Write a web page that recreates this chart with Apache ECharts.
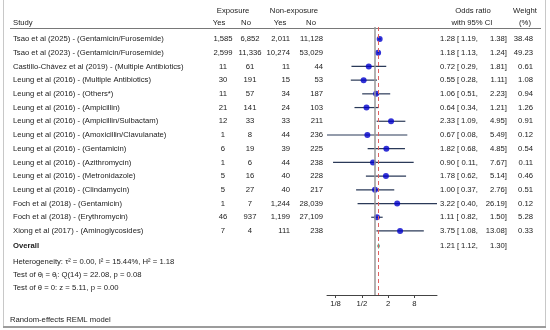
<!DOCTYPE html>
<html><head><meta charset="utf-8">
<script src="https://cdn.jsdelivr.net/npm/echarts@6/dist/echarts.min.js"></script>
<style>html,body{margin:0;padding:0;background:#fff}#c{width:550px;height:330px}</style>
</head><body><div id="c"></div>
<script>
// ---------- data ----------
const studies = [
  'Tsao et al (2025) - (Gentamicin/Furosemide)',
  'Tsao et al (2023) - (Gentamicin/Furosemide)',
  'Castillo-Chávez et al (2019) - (Multiple Antibiotics)',
  'Leung et al (2016) - (Multiple Antibiotics)',
  'Leung et al (2016) - (Others*)',
  'Leung et al (2016) - (Ampicillin)',
  'Leung et al (2016) - (Ampicillin/Sulbactam)',
  'Leung et al (2016) - (Amoxicillin/Clavulanate)',
  'Leung et al (2016) - (Gentamicin)',
  'Leung et al (2016) - (Azithromycin)',
  'Leung et al (2016) - (Metronidazole)',
  'Leung et al (2016) - (Clindamycin)',
  'Foch et al (2018) - (Gentamicin)',
  'Foch et al (2018) - (Erythromycin)',
  'Xiong et al (2017) - (Aminoglycosides)'
];
const expYes = [1585, 2599, 11, 30, 11, 21, 12, 1, 6, 1, 5, 5, 1, 46, 7];
const expNo  = [6852, 11336, 61, 191, 57, 141, 33, 8, 19, 6, 16, 27, 7, 937, 4];
const nonYes = [2011, 10274, 11, 15, 34, 24, 33, 44, 39, 44, 40, 40, 1244, 1199, 111];
const nonNo  = [11128, 53029, 44, 53, 187, 103, 211, 236, 225, 238, 228, 217, 28039, 27109, 238];
const oddsRatio = [1.28, 1.18, 0.72, 0.55, 1.06, 0.64, 2.33, 0.67, 1.82, 0.90, 1.78, 1.00, 3.22, 1.11, 3.75];
const ciLow  = [1.19, 1.13, 0.29, 0.28, 0.51, 0.34, 1.09, 0.08, 0.68, 0.11, 0.62, 0.37, 0.40, 0.82, 1.08];
const ciHigh = [1.38, 1.24, 1.81, 1.11, 2.23, 1.21, 4.95, 5.49, 4.85, 7.67, 5.14, 2.76, 26.19, 1.50, 13.08];
const weights = [38.48, 49.23, 0.61, 1.08, 0.94, 1.26, 0.91, 0.12, 0.54, 0.11, 0.46, 0.51, 0.12, 5.28, 0.33];
const overallEst = [1.21, 1.12, 1.30];
const tickValues = [0.125, 0.5, 2, 8];
const tickLabels = ['1/8', '1/2', '2', '8'];
const statLines = [
  'Heterogeneity: τ² = 0.00, I² = 15.44%, H² = 1.18',
  'Test of θᵢ = θⱼ: Q(14) = 22.08, p = 0.08',
  'Test of θ = 0: z = 5.11, p = 0.00'
];
const footer = 'Random-effects REML model';

// ---------- layout ----------
const FONT = '"Liberation Sans", Arial, Helvetica, sans-serif';
const FS = 7.7;
const TXT = '#222';
const n = studies.length;
const overallRow = n + 1.1;
const fmt = v => v.toLocaleString('en-US');

const chart = echarts.init(document.getElementById('c'), null, {renderer: 'canvas'});

const option = {
  animation: false,
  grid: {left: 327, right: 113, top: 27, bottom: 35},
  xAxis: {
    type: 'log', logBase: 2, min: ciLow[7], max: ciHigh[12],
    axisLine: {lineStyle: {color: '#444', width: 1}},
    axisTick: {length: 3, customValues: tickValues, lineStyle: {color: '#444'}},
    axisLabel: {
      customValues: tickValues, fontSize: FS, fontFamily: FONT, color: TXT, margin: 5,
      formatter: v => {
        for (let i = 0; i < tickValues.length; i++) {
          if (Math.abs(Math.log2(v) - Math.log2(tickValues[i])) < 0.01) return tickLabels[i];
        }
        return '';
      }
    },
    splitLine: {show: false}
  },
  yAxis: {type: 'value', inverse: true, min: 0.125, max: 19.67, show: false},
  series: [
    {
      type: 'custom', z: 2,
      data: ciLow.map((l, i) => [l, ciHigh[i], i + 1]),
      encode: {x: [0, 1], y: 2},
      renderItem: (params, api) => {
        const y = api.value(2);
        const p1 = api.coord([api.value(0), y]);
        const p2 = api.coord([api.value(1), y]);
        return {type: 'line', shape: {x1: p1[0], y1: p1[1], x2: p2[0], y2: p2[1]},
          style: {stroke: '#2b3a58', lineWidth: 1.2}};
      }
    },
    {
      type: 'scatter', z: 3, symbol: 'circle', symbolSize: 6,
      itemStyle: {color: '#0000cc'},
      data: oddsRatio.map((v, i) => [v, i + 1]),
      markLine: {
        silent: true, symbol: 'none', label: {show: false}, animation: false,
        data: [
          {xAxis: 1, lineStyle: {color: '#999', width: 1.5, type: 'solid'}},
          {xAxis: overallEst[0], lineStyle: {color: '#e06060', width: 1, type: [4, 3]}}
        ]
      }
    },
    {
      type: 'custom', z: 3,
      data: [[overallEst[0], overallEst[1], overallEst[2], overallRow]],
      encode: {x: [0, 1, 2], y: 3},
      renderItem: (params, api) => {
        const y = api.value(3);
        const c = api.coord([api.value(0), y]);
        const l = api.coord([api.value(1), y]);
        const h = api.coord([api.value(2), y]);
        return {type: 'polygon', shape: {points: [[l[0], c[1]], [c[0], c[1] - 3], [h[0], c[1]], [c[0], c[1] + 3]]},
          style: {fill: '#2fae84'}};
      }
    }
  ]
};
chart.setOption(option);

// ---------- text columns ----------
const g = [];
function txt(text, x, y, align, extra) {
  g.push({type: 'text', x: x, y: y, silent: true,
    style: Object.assign({text: text, fill: TXT, font: FS + 'px ' + FONT, align: align || 'left', verticalAlign: 'middle'}, extra || {})});
}
// frame
g.push({type: 'rect', shape: {x: 3.5, y: -2, width: 542, height: 329}, style: {fill: null, stroke: '#c8c8c8', lineWidth: 1}, silent: true});
g.push({type: 'line', shape: {x1: 3, y1: 327, x2: 546, y2: 327}, style: {stroke: '#9c9c9c', lineWidth: 2}, silent: true});
// header
txt('Exposure', 233, 11, 'center');
txt('Non-exposure', 294, 11, 'center');
txt('Odds ratio', 473, 11, 'center');
txt('Weight', 525, 11, 'center');
txt('Study', 13, 23, 'left');
txt('Yes', 219, 23, 'center');
txt('No', 246, 23, 'center');
txt('Yes', 280, 23, 'center');
txt('No', 311, 23, 'center');
txt('with 95% CI', 472, 23, 'center');
txt('(%)', 525, 23, 'center');
g.push({type: 'line', shape: {x1: 10, y1: 28.5, x2: 541, y2: 28.5}, style: {stroke: '#555', lineWidth: 0.8}, silent: true});

function orText(est, lo, hi, y) {
  txt(est.toFixed(2) + ' [', 440, y, 'left');
  txt(lo.toFixed(2) + ',', 478, y, 'right');
  txt(hi.toFixed(2) + ']', 507, y, 'right');
}
for (let i = 0; i < n; i++) {
  const y = chart.convertToPixel({yAxisIndex: 0}, i + 1);
  txt(studies[i], 13, y, 'left');
  txt(fmt(expYes[i]), 223, y, 'center');
  txt(fmt(expNo[i]), 250, y, 'center');
  txt(fmt(nonYes[i]), 290, y, 'right');
  txt(fmt(nonNo[i]), 323, y, 'right');
  orText(oddsRatio[i], ciLow[i], ciHigh[i], y);
  txt(weights[i].toFixed(2), 533, y, 'right');
}
const yo = chart.convertToPixel({yAxisIndex: 0}, overallRow);
txt('Overall', 13, yo, 'left', {font: 'bold ' + FS + 'px ' + FONT});
orText(overallEst[0], overallEst[1], overallEst[2], yo);
statLines.forEach((s, k) => txt(s, 13, yo + 16 + k * 13, 'left'));
txt(footer, 10, 320, 'left');

chart.setOption({graphic: {elements: g}});
</script>
</body></html>
